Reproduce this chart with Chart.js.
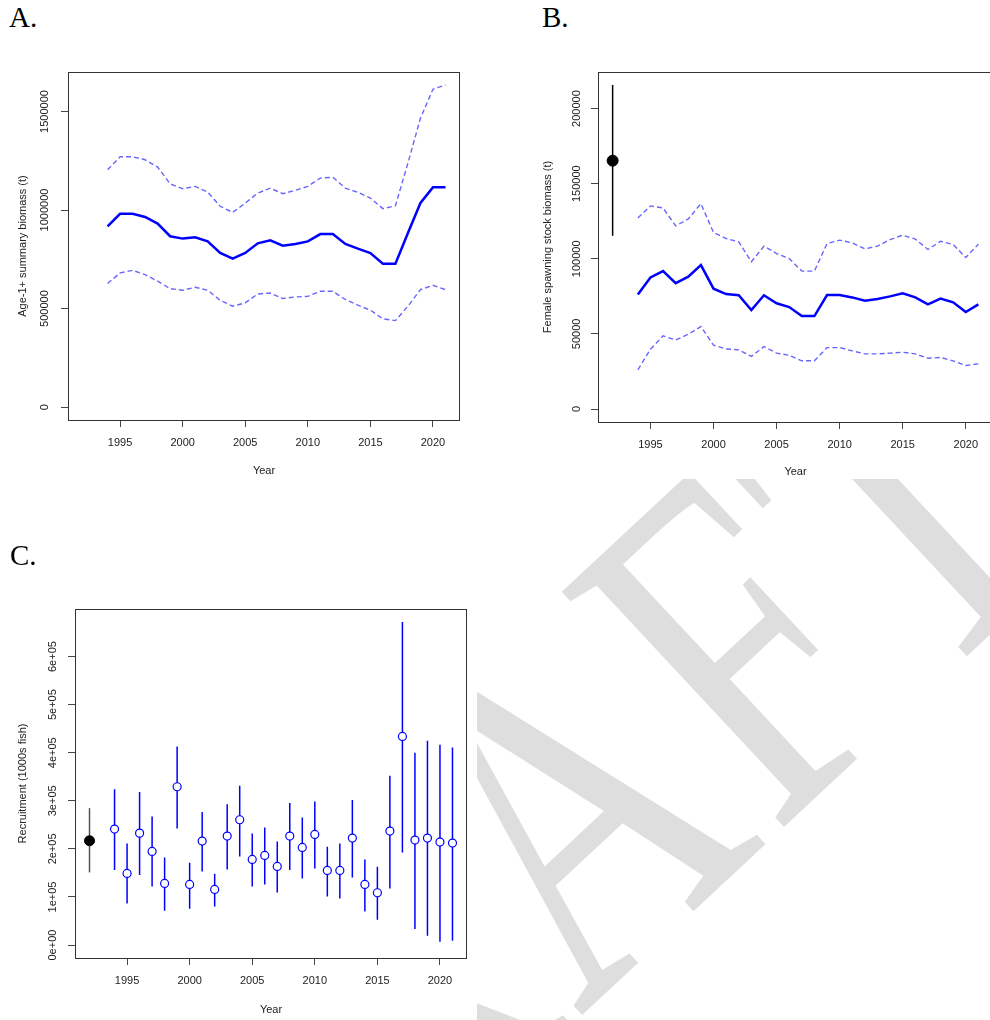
<!DOCTYPE html>
<html><head><meta charset="utf-8">
<script src="https://cdn.jsdelivr.net/npm/chart.js@4.4.1/dist/chart.umd.min.js"></script>
<style>
html,body{margin:0;padding:0;width:990px;height:1020px;overflow:hidden;background:#fff;}
#wrap{position:relative;width:990px;height:1020px;overflow:hidden;background:#fff;}
.panel{position:absolute;background:#fff;}
canvas{display:block;}
.plabel{position:absolute;font-family:"Liberation Serif",serif;font-size:29px;color:#000;line-height:29px;}
#wm{position:absolute;left:204px;top:955px;font-family:"Liberation Serif",serif;font-size:494px;line-height:494px;color:#dedede;white-space:nowrap;letter-spacing:14px;transform-origin:0 413.7px;transform:rotate(-43deg) scale(0.72,1);}
</style></head>
<body><div id="wrap">
<div id="wm">DRAFT</div>
<div class="panel" style="left:0;top:40px;width:530px;height:450px"><canvas id="cA" width="530" height="450"></canvas></div>
<div class="panel" style="left:530px;top:40px;width:470px;height:439px"><canvas id="cB" width="470" height="439"></canvas></div>
<div class="panel" style="left:0;top:530px;width:477px;height:490px"><canvas id="cC" width="477" height="490"></canvas></div>
<div class="plabel" style="left:9px;top:3px">A.</div>
<div class="plabel" style="left:542px;top:3px">B.</div>
<div class="plabel" style="left:10px;top:541px">C.</div>
</div>
<script>
// ---------- data ----------
const years = [1994,1995,1996,1997,1998,1999,2000,2001,2002,2003,2004,2005,2006,2007,2008,2009,2010,2011,2012,2013,2014,2015,2016,2017,2018,2019,2020,2021];
const unfishedYear = 1992;
const xTicks = [1995,2000,2005,2010,2015,2020];

// A. Age-1+ summary biomass (t)
const ageBiomass = [917000,981000,981000,965000,931000,867000,855000,862000,841000,782000,753000,782000,831000,846000,819000,828000,841000,878000,878000,828000,804000,782000,728000,728000,883000,1036000,1115000,1115000];
const ageBiomassHi = [1204000,1270000,1270000,1255000,1218000,1133000,1108000,1120000,1091000,1019000,988000,1035000,1086000,1111000,1083000,1100000,1120000,1162000,1166000,1111000,1090000,1061000,1007000,1022000,1238000,1466000,1613000,1635000];
const ageBiomassLo = [627000,681000,694000,672000,639000,601000,593000,608000,593000,542000,512000,529000,574000,579000,551000,559000,562000,588000,588000,546000,517000,492000,448000,439000,512000,596000,618000,596000];
const yTicksA = [0,500000,1000000,1500000];
const yTickLabelsA = ['0','500000','1000000','1500000'];

// B. Female spawning stock biomass (t)
const ssb = [76300,87600,91800,83800,88100,95800,80100,76500,75700,65900,75700,70400,67900,61900,61900,75900,75900,74300,72100,73200,75000,77000,74300,69700,73500,71000,64600,69700];
const ssbHi = [127200,135200,133800,121900,126500,136700,117500,113500,111300,98000,108400,103500,100200,91800,91800,110200,112400,110600,106600,108400,112800,115700,113100,106200,111700,109500,100900,109700];
const ssbLo = [26100,39800,48700,46000,49800,54900,42500,40000,39400,35000,41600,37200,35800,32100,32100,40900,40900,38700,36700,36700,37200,37800,36700,33800,34300,32100,29000,30100];
const ssbUnfished = [165300];
const ssbUnfishedLo = [115300];
const ssbUnfishedHi = [215700];
const yTicksB = [0,50000,100000,150000,200000];
const yTickLabelsB = ['0','50000','100000','150000','200000'];

// C. Recruitment (1000s fish)
const rec = [241200,149000,232800,194700,128200,329200,126100,216200,115700,226600,260600,178100,186400,163500,226600,203000,230100,155200,155200,222500,126100,108800,237000,433800,218300,222500,214100,212100];
const recHi = [324300,211400,318100,267500,182300,413000,171200,276500,148300,293100,331300,232200,244600,215500,295200,265400,298700,204400,211400,301500,178100,162900,352000,672000,399900,424800,416500,410900];
const recLo = [155900,86600,145500,122000,71400,242600,75500,153200,80400,157300,184300,122000,126100,109500,155900,138600,159400,101200,97000,140700,70000,52700,117800,192700,33300,19400,6900,9000];
const recUnfished = [216900];
const recUnfishedLo = [151100];
const recUnfishedHi = [284800];
const yTicksC = [0,100000,200000,300000,400000,500000,600000];
const yTickLabelsC = ['0e+00','1e+05','2e+05','3e+05','4e+05','5e+05','6e+05'];

const xTitle = 'Year';
const yTitleA = 'Age-1+ summary biomass (t)';
const yTitleB = 'Female spawning stock biomass (t)';
const yTitleC = 'Recruitment (1000s fish)';

// ---------- helpers ----------
function rRange(vals){const lo=Math.min(...vals),hi=Math.max(...vals),d=(hi-lo)*0.04;return [lo-d,hi+d];}
const xr = rRange([unfishedYear,...years]);
const pts = (xs,ys)=>xs.map((x,i)=>({x:x,y:ys[i]}));
const bars = (xs,lo,hi)=>xs.flatMap((x,i)=>[{x:x,y:lo[i]},{x:x,y:hi[i]},{x:x,y:null}]);

const FONT = {family:'"Liberation Sans", Arial, sans-serif', size:11};
const TXT = '#222';

const rPlugin = {
  id:'rStyle',
  afterDraw(chart,args,o){
    const {ctx,chartArea:a}=chart;
    ctx.save();
    ctx.strokeStyle='#333';ctx.lineWidth=1;
    ctx.strokeRect(Math.round(a.left)+0.5,Math.round(a.top)+0.5,Math.round(a.right-a.left)-1,Math.round(a.bottom-a.top));
    const ys=chart.scales.y;
    ctx.fillStyle=TXT;ctx.font='11px "Liberation Sans", Arial, sans-serif';
    ctx.textAlign='center';ctx.textBaseline='middle';
    o.values.forEach((v,i)=>{
      const py=ys.getPixelForValue(v);
      ctx.save();ctx.translate(o.x,py);ctx.rotate(-Math.PI/2);ctx.fillText(o.labels[i],0,0);ctx.restore();
    });
    ctx.restore();
  }
};

function makeChart(id,W,H,area,xH,yr,yTicks,yLabels,yLabelX,yTitle,yTitlePad,xTitlePad,datasets){
  return new Chart(document.getElementById(id),{
    type:'line',
    data:{datasets:datasets},
    options:{
      responsive:false,animation:false,events:[],
      layout:{padding:{left:0,top:area.top,right:W-area.right,bottom:H-area.bottom-xH}},
      plugins:{legend:{display:false},tooltip:{enabled:false},rStyle:{values:yTicks,labels:yLabels,x:yLabelX}},
      scales:{
        x:{type:'linear',min:xr[0],max:xr[1],
          afterBuildTicks:s=>{s.ticks=xTicks.map(v=>({value:v}));},
          afterFit:s=>{s.height=xH;},
          grid:{display:true,drawOnChartArea:false,drawTicks:true,tickLength:7,tickColor:'#444',color:'#444'},
          border:{display:false},
          ticks:{font:FONT,color:TXT,padding:9,maxRotation:0,minRotation:0,autoSkip:false,callback:v=>String(v)},
          title:{display:true,text:xTitle,font:FONT,color:TXT,padding:{top:0,bottom:xTitlePad}}
        },
        y:{type:'linear',min:yr[0],max:yr[1],
          afterBuildTicks:s=>{s.ticks=yTicks.map(v=>({value:v}));},
          afterFit:s=>{s.width=area.left;},
          grid:{display:true,drawOnChartArea:false,drawTicks:true,tickLength:7,tickColor:'#444',color:'#444'},
          border:{display:false},
          ticks:{display:false},
          title:{display:true,text:yTitle,font:FONT,color:TXT,padding:{top:yTitlePad,bottom:0}}
        }
      }
    },
    plugins:[rPlugin]
  });
}

const BLUE='#0000ff', LBLUE='rgba(0,0,255,0.6)';
const lineDs=(d)=>({data:d,borderColor:BLUE,borderWidth:2.5,pointRadius:0,tension:0,fill:false});
const dashDs=(d)=>({data:d,borderColor:LBLUE,borderWidth:1.4,borderDash:[5,3],pointRadius:0,tension:0,fill:false});

// Panel A
makeChart('cA',530,450,{left:68,top:32,right:460,bottom:380},60,
  rRange([0,...ageBiomassHi,...ageBiomassLo]),yTicksA,yTickLabelsA,45,yTitleA,16.4,2.4,[
    lineDs(pts(years,ageBiomass)),
    dashDs(pts(years,ageBiomassHi)),
    dashDs(pts(years,ageBiomassLo))
  ]);

// Panel B
makeChart('cB',470,439,{left:68,top:32,right:463,bottom:382},57,
  rRange([0,...ssbHi,...ssbLo,...ssbUnfishedHi]),yTicksB,yTickLabelsB,47,yTitleB,11.4,0,[
    {data:pts([unfishedYear],ssbUnfished),showLine:false,pointRadius:5.5,pointBackgroundColor:'#000',pointBorderColor:'#000',pointBorderWidth:1},
    {data:bars([unfishedYear],ssbUnfishedLo,ssbUnfishedHi),borderColor:'#000',borderWidth:1.5,pointRadius:0,spanGaps:false},
    lineDs(pts(years,ssb)),
    dashDs(pts(years,ssbHi)),
    dashDs(pts(years,ssbLo))
  ]);

// Panel C
makeChart('cC',477,490,{left:75,top:79,right:467,bottom:428},62,
  rRange([0,...recHi,...recLo,...recUnfishedHi]),yTicksC,yTickLabelsC,53,yTitleC,16.4,3,[
    {data:pts([unfishedYear],recUnfished),showLine:false,pointRadius:5,pointBackgroundColor:'#000',pointBorderColor:'#000',pointBorderWidth:1},
    {data:pts(years,rec),showLine:false,pointRadius:4,pointBackgroundColor:'#fff',pointBorderColor:BLUE,pointBorderWidth:1.2},
    {data:bars([unfishedYear],recUnfishedLo,recUnfishedHi),borderColor:'#555',borderWidth:1.5,pointRadius:0,spanGaps:false},
    {data:bars(years,recLo,recHi),borderColor:BLUE,borderWidth:1.5,pointRadius:0,spanGaps:false}
  ]);
</script>
</body></html>
